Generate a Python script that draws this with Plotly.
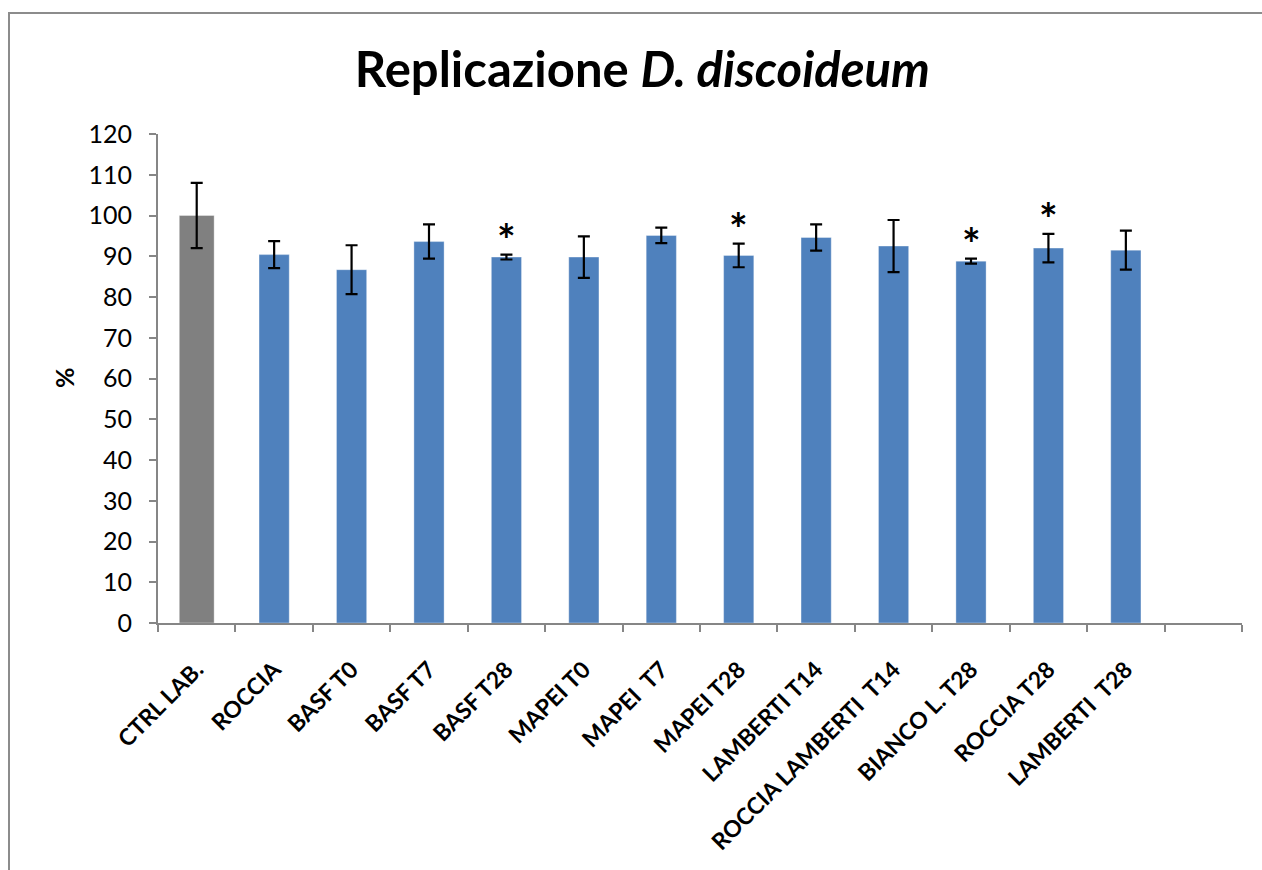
import plotly.graph_objects as go

categories = ["CTRL LAB.", "ROCCIA", "BASF T0", "BASF T7", "BASF T28", "MAPEI T0",
              "MAPEI&nbsp; T7", "MAPEI T28", "LAMBERTI T14", "ROCCIA LAMBERTI&nbsp; T14",
              "BIANCO L. T28", "ROCCIA T28", "LAMBERTI&nbsp; T28"]
values = [100.0, 90.4, 86.7, 93.6, 89.8, 89.8, 95.1, 90.2, 94.6, 92.5, 88.8, 92.0, 91.5]
errors = [8.0, 3.3, 6.0, 4.2, 0.6, 5.1, 1.9, 2.9, 3.2, 6.4, 0.6, 3.5, 4.8]
significant = [False, False, False, False, True, False, False, True, False, False, True, True, False]
bar_colors = ["#808080"] + ["#4F81BD"] * 12
bar_widths = [0.45] + [0.39] * 12
y_ticks = list(range(0, 121, 10))

W, H = 1262, 870
ML, MR, MT, MB = 158, 20, 134, 247
FONT = "Lato, 'Open Sans', sans-serif"

all_cats = categories + [" "]

fig = go.Figure()
fig.add_trace(go.Bar(
    x=categories, y=values, width=bar_widths,
    marker=dict(color=bar_colors, line=dict(color="rgba(255,255,255,0.35)", width=1)),
    error_y=dict(type="data", array=errors, visible=True, color="black",
                 thickness=2.2, width=6),
    showlegend=False,
))

annotations = []
for c, v, e, s in zip(categories, values, errors, significant):
    if s:
        annotations.append(dict(x=c, y=v + e, xref="x", yref="y", text="<b>*</b>",
                                showarrow=False, yanchor="bottom", yshift=-12,
                                font=dict(family=FONT, size=44, color="black")))

pw = W - ML - MR
ph = H - MT - MB
annotations.append(dict(x=(64 - ML) / pw, y=(H - MB - 378) / ph, xref="paper", yref="paper",
                        xanchor="center", yanchor="middle",
                        text="<b>%</b>", textangle=-90, showarrow=False,
                        font=dict(family=FONT, size=25, color="black")))

def px_x(p):
    return (p - ML) / pw

def px_y(p):
    return (H - MB - p) / ph

shapes = [
    dict(type="line", xref="paper", yref="paper", x0=px_x(9), x1=px_x(9), y0=px_y(12), y1=px_y(875),
         line=dict(color="#8c8c8c", width=2)),
    dict(type="line", xref="paper", yref="paper", x0=px_x(8), x1=px_x(1270), y0=px_y(13), y1=px_y(13),
         line=dict(color="#8c8c8c", width=2)),
]

fig.update_layout(
    width=W, height=H,
    margin=dict(l=ML, r=MR, t=MT, b=MB, autoexpand=False),
    paper_bgcolor="white", plot_bgcolor="white",
    font=dict(family=FONT, color="black"),
    title=dict(text="<b>Replicazione <i>D. discoideum</i></b>", xref="container", x=0.509,
               xanchor="center", yref="container", y=1 - 70 / H, yanchor="middle",
               font=dict(family=FONT, size=49, color="black")),
    xaxis=dict(type="category", categoryorder="array", categoryarray=all_cats,
               range=[-0.5, len(all_cats) - 0.5], tickson="boundaries",
               ticks="outside", ticklen=7, tickcolor="#868686", tickwidth=2,
               showline=True, linecolor="#868686", linewidth=2, showgrid=False,
               tickangle=-45, ticklabelstandoff=22,
               tickfont=dict(family=FONT, size=23, color="black", weight="bold"),
               automargin=False),
    yaxis=dict(range=[0, 120], tickvals=y_ticks, ticks="outside", ticklen=7,
               tickcolor="#868686", tickwidth=2, showline=True, linecolor="#868686",
               linewidth=2, showgrid=False, zeroline=False, ticklabelstandoff=12,
               tickfont=dict(family=FONT, size=25, color="black"), automargin=False),
    annotations=annotations,
    shapes=shapes,
)

fig.write_html("out.html", post_script="document.body.style.margin='0';",
               config={"displayModeBar": False})
